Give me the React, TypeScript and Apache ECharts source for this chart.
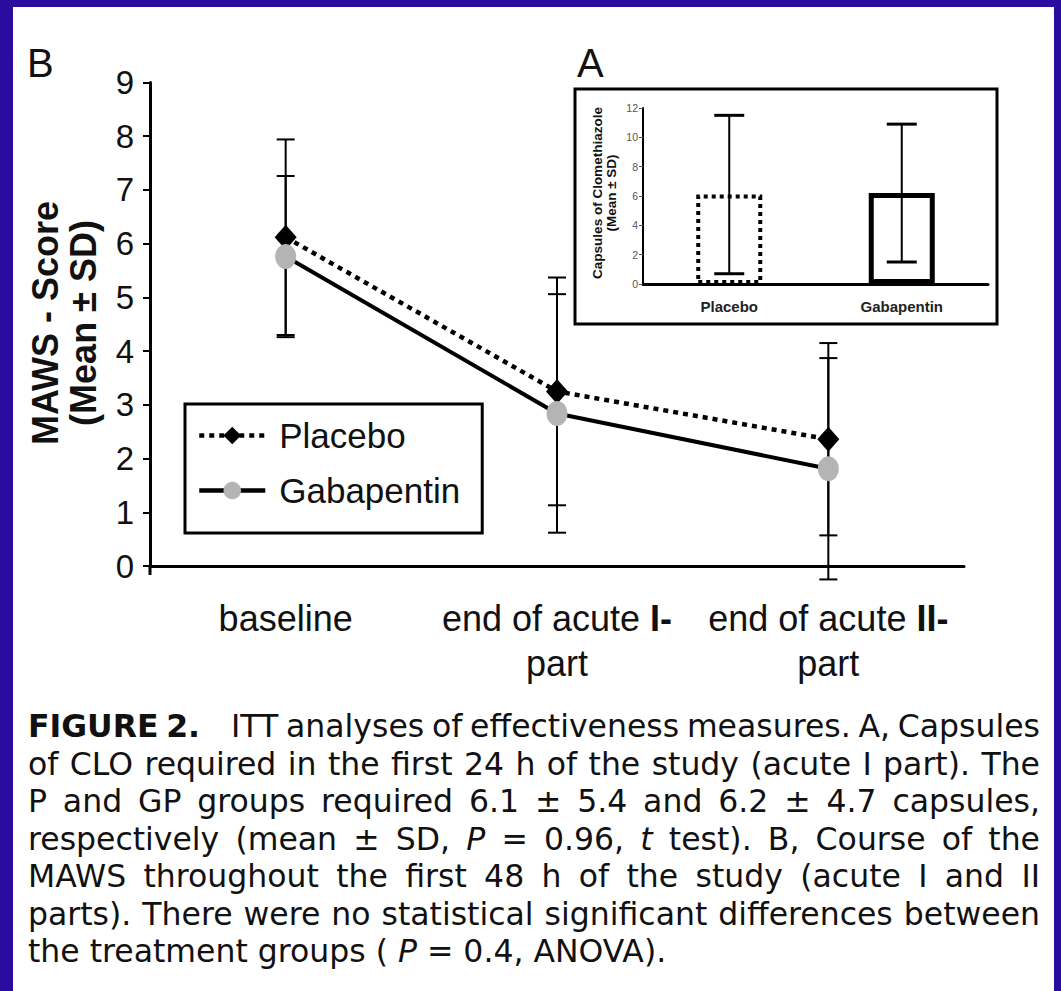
import React, { useEffect, useRef } from 'react';
import * as echarts from 'echarts';

// MAWS score course (panel B)
const timepoints = ['baseline', 'end of acute I-\npart', 'end of acute II-\npart'];
const placeboMean = [6.12, 3.25, 2.36];
const placeboSD = [1.82, 2.12, 1.79];
const gabapentinMean = [5.76, 2.84, 1.81];
const gabapentinSD = [1.5, 2.22, 2.06];
const mawsMin = 0;
const mawsMax = 9;
const mawsStep = 1;

// Clomethiazole capsules (panel A)
const groups = ['Placebo', 'Gabapentin'];
const capsuleMean = [6.1, 6.2];
const capsuleSD = [5.4, 4.7];
const capsMin = 0;
const capsMax = 12;
const capsStep = 2;

const seriesNames = ['Placebo', 'Gabapentin'];

const captionLines = [
  '{b|FIGURE 2.}    ITT analyses of effectiveness measures. A, Capsules',
  'of CLO required in the first 24 h of the study (acute I part). The',
  'P and GP groups required 6.1 ± 5.4 and 6.2 ± 4.7 capsules,',
  'respectively (mean ± SD, {i|P} = 0.96, {i|t} test). B, Course of the',
  'MAWS throughout the first 48 h of the study (acute I and II',
  'parts). There were no statistical significant differences between',
  'the treatment groups ( {i|P} = 0.4, ANOVA).',
];

const SANS = '"Liberation Sans", Arial, Helvetica, sans-serif';
const CAPTION_FAMILY = '"DejaVu Sans", "Liberation Sans", sans-serif';
const CAPTION_SIZE = 31.5;
const CAPTION_LINE = 36;
const CAPTION_LEFT = 28;
const CAPTION_WIDTH = 1012;
const BLUE = '#2c0b9f';

function errorBars(capHalf: number, capWidth: number, stemWidth: number) {
  return (_params: any, api: any) => {
    const x = api.value(0);
    const lo = api.coord([x, api.value(1)]);
    const hi = api.coord([x, api.value(2)]);
    const cap = { stroke: '#000', lineWidth: capWidth };
    return {
      type: 'group',
      children: [
        { type: 'line', shape: { x1: lo[0], y1: lo[1], x2: hi[0], y2: hi[1] }, style: { stroke: '#000', lineWidth: stemWidth } },
        { type: 'line', shape: { x1: lo[0] - capHalf, y1: lo[1], x2: lo[0] + capHalf, y2: lo[1] }, style: cap },
        { type: 'line', shape: { x1: hi[0] - capHalf, y1: hi[1], x2: hi[0] + capHalf, y2: hi[1] }, style: cap },
      ],
    };
  };
}

const rangeData = (mean: number[], sd: number[]) => mean.map((m, i) => [i, m - sd[i], m + sd[i]]);

type Segment = { style: string; text: string };

function parseSegments(line: string): Segment[] {
  const segs: Segment[] = [];
  const re = /\{(\w)\|([^}]*)\}/g;
  let last = 0;
  let m: RegExpExecArray | null;
  while ((m = re.exec(line))) {
    if (m.index > last) segs.push({ style: '', text: line.slice(last, m.index) });
    segs.push({ style: m[1], text: m[2] });
    last = re.lastIndex;
  }
  if (last < line.length) segs.push({ style: '', text: line.slice(last) });
  return segs;
}

const captionFont = (style: string) =>
  `${style === 'i' ? 'italic ' : ''}${style === 'b' ? 'bold ' : ''}${CAPTION_SIZE}px ${CAPTION_FAMILY}`;

// Justified caption line: spaces become fixed-width rich tokens.
function justifyLine(line: string, stretch: boolean, ctx: CanvasRenderingContext2D | null) {
  const segs = parseSegments(line);
  let spaceWidth = CAPTION_SIZE * 0.318;
  let ink = 0;
  let spaces = 0;
  if (ctx) {
    ctx.font = captionFont('');
    spaceWidth = ctx.measureText(' ').width;
  }
  segs.forEach((s) => {
    const words = s.text.split(' ');
    if (ctx) ctx.font = captionFont(s.style);
    words.forEach((w) => {
      ink += ctx ? ctx.measureText(w).width : w.length * CAPTION_SIZE * 0.55;
    });
    spaces += words.length - 1;
  });
  const gap = stretch && ctx && spaces > 0 ? Math.max(spaceWidth * 0.7, (CAPTION_WIDTH - ink) / spaces) : spaceWidth;
  const text = segs
    .map((s) =>
      s.text
        .split(' ')
        .map((w) => (w ? (s.style ? `{${s.style}|${w}}` : w) : ''))
        .join('{s| }'),
    )
    .join('');
  return { text, gap };
}

export default function App() {
  const ref = useRef<HTMLDivElement>(null);

  useEffect(() => {
    if (!ref.current) return;
    const chart = echarts.init(ref.current, undefined, { renderer: 'svg' });

    const ctx = document.createElement('canvas').getContext('2d');
    const captionGraphics = captionLines.map((line, i) => {
      const { text, gap } = justifyLine(line, i < captionLines.length - 1, ctx);
      const base = { fontSize: CAPTION_SIZE, fontFamily: CAPTION_FAMILY, fill: '#111', lineHeight: CAPTION_LINE };
      return {
        type: 'text',
        x: CAPTION_LEFT,
        y: 726 + i * 37.5,
        z: 10,
        style: {
          text,
          font: captionFont(''),
          fill: '#111',
          lineHeight: CAPTION_LINE,
          textVerticalAlign: 'middle',
          rich: {
            b: { ...base, fontWeight: 'bold' },
            i: { ...base, fontStyle: 'italic' },
            s: { ...base, width: gap },
          },
        },
      };
    });

    chart.setOption({
      animation: false,
      backgroundColor: BLUE,
      textStyle: { fontFamily: SANS },
      graphic: [
        { type: 'rect', z: -10, shape: { x: 13, y: 7, width: 1041, height: 984 }, style: { fill: '#fff' } },
        { type: 'rect', z: -5, shape: { x: 575, y: 89, width: 422, height: 235 }, style: { fill: '#fff', stroke: '#000', lineWidth: 3 } },
        { type: 'text', x: 27, y: 63, style: { text: 'B', font: `40px ${SANS}`, fill: '#111', textVerticalAlign: 'middle' } },
        { type: 'text', x: 577, y: 63, style: { text: 'A', font: `40px ${SANS}`, fill: '#111', textVerticalAlign: 'middle' } },
        {
          type: 'text', x: 64, y: 323, rotation: Math.PI / 2,
          style: { text: 'MAWS - Score\n(Mean ± SD)', font: `bold 36px ${SANS}`, lineHeight: 38, fill: '#111', textAlign: 'center', textVerticalAlign: 'middle' },
        },
        {
          type: 'text', x: 604, y: 193, rotation: Math.PI / 2,
          style: { text: 'Capsules of Clomethiazole\n(Mean ± SD)', font: `bold 13.5px ${SANS}`, lineHeight: 14, fill: '#111', textAlign: 'center', textVerticalAlign: 'middle' },
        },
        // tick closing the category axis at its origin
        { type: 'line', shape: { x1: 150, y1: 566, x2: 150, y2: 575 }, style: { stroke: '#000', lineWidth: 3 } },
        ...captionGraphics,
      ],
      legend: {
        data: seriesNames,
        orient: 'vertical',
        left: 185,
        top: 404,
        itemWidth: 66,
        itemHeight: 22,
        itemGap: 20,
        padding: [14, 22, 25, 12],
        borderColor: '#000',
        borderWidth: 3,
        backgroundColor: '#fff',
        selectedMode: false,
        lineStyle: { width: 4.5 },
        textStyle: { fontSize: 35, color: '#111', fontFamily: SANS, padding: [0, 0, 0, 9] },
      },
      grid: [
        { left: 150, right: 97, top: 82.5, bottom: 425 },
        { left: 643, right: 73, top: 108, bottom: 707 },
      ],
      xAxis: [
        {
          type: 'category',
          gridIndex: 0,
          data: timepoints,
          boundaryGap: true,
          axisLine: { lineStyle: { color: '#000', width: 3 } },
          axisTick: { alignWithLabel: true, length: 8, lineStyle: { color: '#000', width: 3 } },
          axisLabel: {
            fontSize: 36,
            color: '#111',
            margin: 30,
            lineHeight: 45,
            interval: 0,
            formatter: (v: string) => v.replace(/(I+-)/, '{b|$1}'),
            rich: { b: { fontWeight: 'bold', fontSize: 36, color: '#111', lineHeight: 45 } },
          },
          splitLine: { show: false },
        },
        {
          type: 'category',
          gridIndex: 1,
          data: groups,
          axisLine: { lineStyle: { color: '#000', width: 3 } },
          axisTick: { show: false },
          axisLabel: { fontSize: 15, fontWeight: 'bold', color: '#222', margin: 15 },
        },
      ],
      yAxis: [
        {
          type: 'value',
          gridIndex: 0,
          min: mawsMin,
          max: mawsMax,
          interval: mawsStep,
          axisLine: { show: true, lineStyle: { color: '#000', width: 3 } },
          axisTick: { show: true, length: 7, lineStyle: { color: '#000', width: 2 } },
          axisLabel: { fontSize: 33, color: '#111', margin: 16 },
          splitLine: { show: false },
        },
        {
          type: 'value',
          gridIndex: 1,
          min: capsMin,
          max: capsMax,
          interval: capsStep,
          axisLine: { show: true, lineStyle: { color: '#000', width: 2 } },
          axisTick: { show: true, length: 4, lineStyle: { color: '#555', width: 1 } },
          axisLabel: { fontSize: 10.5, color: '#555', margin: 5 },
          splitLine: { show: false },
        },
      ],
      series: [
        {
          type: 'custom',
          name: 'placebo-sd',
          xAxisIndex: 0,
          yAxisIndex: 0,
          z: 1,
          renderItem: errorBars(9, 2, 2),
          encode: { x: 0, y: [1, 2] },
          data: rangeData(placeboMean, placeboSD),
        },
        {
          type: 'custom',
          name: 'gabapentin-sd',
          xAxisIndex: 0,
          yAxisIndex: 0,
          z: 1,
          renderItem: errorBars(9, 2, 2),
          encode: { x: 0, y: [1, 2] },
          data: rangeData(gabapentinMean, gabapentinSD),
        },
        {
          type: 'line',
          name: seriesNames[0],
          xAxisIndex: 0,
          yAxisIndex: 0,
          z: 3,
          data: placeboMean,
          symbol: 'diamond',
          symbolSize: [22, 25],
          itemStyle: { color: '#000' },
          lineStyle: { color: '#000', width: 4.5, type: [5, 5] },
        },
        {
          type: 'line',
          name: seriesNames[1],
          xAxisIndex: 0,
          yAxisIndex: 0,
          z: 4,
          data: gabapentinMean,
          symbol: 'circle',
          symbolSize: [21, 25],
          itemStyle: { color: '#b4b4b4' },
          lineStyle: { color: '#000', width: 4 },
        },
        {
          type: 'bar',
          name: 'capsules',
          xAxisIndex: 1,
          yAxisIndex: 1,
          barWidth: 66,
          z: 2,
          data: capsuleMean.map((v, i) => ({
            value: v,
            itemStyle: i === 0
              ? { color: '#fff', borderColor: '#000', borderWidth: 4, borderType: [4, 4] }
              : { color: '#fff', borderColor: '#000', borderWidth: 5 },
          })),
        },
        {
          type: 'custom',
          name: 'capsules-sd',
          xAxisIndex: 1,
          yAxisIndex: 1,
          z: 3,
          renderItem: errorBars(15, 3, 2),
          encode: { x: 0, y: [1, 2] },
          data: rangeData(capsuleMean, capsuleSD),
        },
      ],
    });

    return () => chart.dispose();
  }, []);

  return (
    <div
      ref={ref}
      style={{ position: 'absolute', left: 0, top: 0, width: 1061, height: 991 }}
    />
  );
}
